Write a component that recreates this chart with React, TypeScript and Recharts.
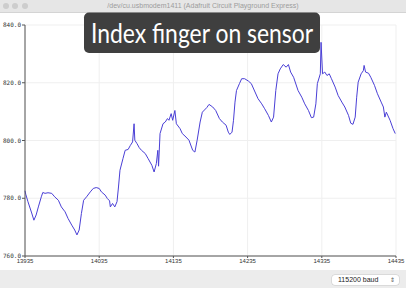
import { LineChart, Line, XAxis, YAxis, CartesianGrid } from 'recharts';

// sample counter on the x axis
const samples = [
  13935, 13936, 13939, 13944, 13947, 13950, 13953, 13957, 13959, 13962,
  13966, 13971, 13975, 13980, 13984, 13989, 13993, 13998, 14002, 14005,
  14008, 14011, 14014, 14018, 14023, 14027, 14031, 14035, 14038, 14043,
  14046, 14049, 14050, 14053, 14056, 14059, 14061, 14063, 14067, 14070,
  14074, 14077, 14080, 14082, 14083, 14086, 14089, 14092, 14097, 14101,
  14106, 14109, 14112, 14114, 14115, 14117, 14121, 14124, 14127, 14129,
  14132, 14134, 14137, 14139, 14144, 14147, 14152, 14156, 14161, 14164,
  14167, 14171, 14174, 14180, 14183, 14188, 14192, 14197, 14201, 14206,
  14209, 14211, 14214, 14216, 14218, 14220, 14224, 14227, 14231, 14236,
  14240, 14245, 14249, 14254, 14258, 14263, 14267, 14270, 14273, 14276,
  14279, 14283, 14287, 14290, 14293, 14297, 14303, 14308, 14312, 14317,
  14321, 14324, 14327, 14329, 14333, 14334, 14336, 14339, 14342, 14345,
  14348, 14353, 14357, 14362, 14366, 14371, 14374, 14377, 14380, 14382,
  14384, 14388, 14391, 14392, 14394, 14398, 14401, 14406, 14410, 14415,
  14418, 14420, 14422, 14427, 14431, 14434,
];

// sensor readings
const readings = [
  782.6, 781.4, 778.8, 774.9, 772.4, 774.2, 777.0, 780.5, 782.0, 781.7,
  781.9, 781.7, 780.5, 779.3, 777.0, 775.3, 773.0, 770.7, 769.0, 767.3,
  769.0, 774.7, 779.3, 780.5, 782.2, 783.4, 783.7, 783.4, 782.2, 781.1,
  779.9, 779.1, 777.0, 778.2, 777.0, 778.8, 783.9, 789.7, 793.7, 796.6,
  796.9, 798.3, 799.5, 805.8, 800.1, 798.9, 797.5, 796.6, 795.5, 793.7,
  791.4, 789.1, 792.0, 796.6, 791.1, 802.4, 805.8, 806.4, 807.6, 807.0,
  809.3, 807.0, 810.4, 805.8, 804.1, 802.4, 801.2, 800.1, 796.6, 796.0,
  800.1, 806.4, 809.8, 811.4, 812.5, 811.6, 810.4, 807.6, 806.4, 805.3,
  802.9, 802.1, 802.9, 807.0, 813.3, 817.3, 819.7, 821.4, 821.4, 820.6,
  819.7, 816.8, 814.5, 812.7, 811.0, 808.7, 806.4, 808.1, 817.3, 823.1,
  824.8, 826.3, 825.4, 826.3, 823.7, 821.9, 817.3, 815.0, 812.7, 810.4,
  807.9, 808.1, 812.7, 819.7, 823.1, 834.0, 823.1, 823.7, 822.5, 823.1,
  821.4, 818.5, 815.6, 813.3, 811.6, 808.7, 806.0, 805.6, 808.1, 815.0,
  820.2, 823.1, 824.2, 826.0, 823.7, 823.3, 821.9, 819.1, 816.2, 813.3,
  811.6, 808.1, 809.8, 807.0, 804.1, 802.4,
];

const xTicks = [13935, 14035, 14135, 14235, 14335, 14435];
const yTicks = [760, 780, 800, 820, 840];

const data = samples.map((s, i) => ({ sample: s, value: readings[i] }));

const title = '/dev/cu.usbmodem1411 (Adafruit Circuit Playground Express)';
const caption = 'Index finger on sensor';

export default function App() {
  return (
    <div style={{ position: 'absolute', left: 0, top: 0, width: 406, height: 288, background: '#fff', overflow: 'hidden' }}>
      <LineChart width={406} height={288} data={data} margin={{ top: 25, right: 10, bottom: 18, left: 0 }}>
        <CartesianGrid stroke="#efefef" strokeWidth={1} />
        <XAxis
          dataKey="sample"
          type="number"
          domain={[13935, 14435]}
          ticks={xTicks}
          height={14}
          stroke="#555"
          tickSize={2}
          tickLine={{ stroke: '#555' }}
          tick={{ fill: '#333', fontSize: 6, fontFamily: 'Liberation Sans' }}
          tickMargin={1}
        />
        <YAxis
          type="number"
          domain={[760, 840]}
          ticks={yTicks}
          width={25}
          stroke="#555"
          tickSize={3}
          tickFormatter={(v: number) => v.toFixed(1)}
          tick={{ fill: '#333', fontSize: 6, fontFamily: 'DejaVu Sans Mono' }}
          tickMargin={1}
        />
        <Line
          type="linear"
          dataKey="value"
          stroke="#4a3fd6"
          strokeWidth={1}
          dot={false}
          isAnimationActive={false}
        />
      </LineChart>

      {/* window title bar */}
      <div style={{ position: 'absolute', left: 0, top: 0, width: 406, height: 12, background: '#e6e6e6', borderBottom: '1px solid #d4d4d4' }}>
        {[6, 15, 25].map((cx) => (
          <div key={cx} style={{ position: 'absolute', left: cx - 3, top: 3, width: 6, height: 6, borderRadius: 3, background: '#cdcdcd' }} />
        ))}
        <div style={{ position: 'absolute', left: 0, width: 406, top: 1, textAlign: 'center', fontSize: 7, lineHeight: '10px', color: '#9c9c9c', fontFamily: 'Liberation Sans' }}>
          {title}
        </div>
      </div>

      {/* caption overlay */}
      <svg style={{ position: 'absolute', left: 0, top: 0 }} width={406} height={288}>
        <rect x={84} y={12.5} width={236} height={40.5} rx={5} fill="#3f3f3f" />
        <text x={91} y={43} fill="#fff" fontSize={26} fontFamily="Lato" textLength={222} lengthAdjust="spacingAndGlyphs">
          {caption}
        </text>
      </svg>

      {/* bottom bar */}
      <div style={{ position: 'absolute', left: 0, top: 270, width: 406, height: 18, background: '#ececec' }}>
        <div style={{ position: 'absolute', left: 332, top: 5, width: 67, height: 10, background: '#fff', borderRadius: 3, boxShadow: '0 0 0 0.5px #c8c8c8', fontFamily: 'Liberation Sans', fontSize: 7, lineHeight: '10px', color: '#222' }}>
          <span style={{ position: 'absolute', left: 6 }}>115200 baud</span>
          <span style={{ position: 'absolute', right: 4, fontSize: 6, color: '#555' }}>⇕</span>
        </div>
      </div>
    </div>
  );
}
